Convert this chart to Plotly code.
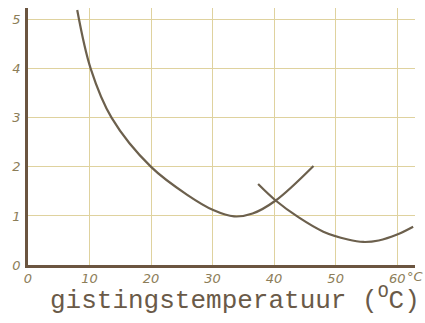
import plotly.graph_objects as go

# Curve 1 (lower-temperature optimum)
c1_x = [8.0, 10.2, 13.6, 20.0, 26.0, 30.1, 33.5, 36.5, 40.2, 46.4]
c1_y = [5.2, 4.0, 3.0, 2.0, 1.42, 1.12, 0.99, 1.05, 1.31, 2.02]
# Curve 2 (higher-temperature optimum)
c2_x = [37.4, 40.3, 44, 48, 52, 54.5, 57, 60, 62.6]
c2_y = [1.65, 1.31, 0.97, 0.68, 0.52, 0.47, 0.5, 0.62, 0.78]

x_ticks = [0, 10, 20, 30, 40, 50, 60]
x_labels = ["0", "10", "20", "30", "40", "50", "60"]
y_ticks = [0, 1, 2, 3, 4, 5]
y_labels = ["0", "1", "2", "3", "4", "5"]
x_title = "gistingstemperatuur (<sup>O</sup>C)"

curve_col = "#6c604d"
axis_col = "#6b5540"
grid_col = "#dfd29e"
tick_col = "#8c7d58"

fig = go.Figure()
for xs, ys in [(c1_x, c1_y), (c2_x, c2_y)]:
    fig.add_trace(go.Scatter(x=xs, y=ys, mode="lines",
                             line=dict(color=curve_col, width=2.2, shape="spline", smoothing=1.0),
                             showlegend=False, hoverinfo="skip"))

W, H = 425, 323
L, R, T, B = 28, 10, 8, 58
fig.update_layout(
    width=W, height=H,
    margin=dict(l=L, r=R, t=T, b=B),
    paper_bgcolor="white", plot_bgcolor="white",
)
fig.update_xaxes(range=[0, 62.9], tickvals=x_ticks, ticktext=x_labels,
                 showgrid=True, gridcolor=grid_col, gridwidth=1,
                 showline=True, linecolor=axis_col, linewidth=2.5,
                 zeroline=False, ticks="",
                 tickfont=dict(family="DejaVu Sans", size=13, color=tick_col, style="italic"),
                 ticklabelstandoff=0)
fig.update_yaxes(range=[0, 5.24], tickvals=y_ticks, ticktext=y_labels,
                 showgrid=True, gridcolor=grid_col, gridwidth=1,
                 showline=True, linecolor=axis_col, linewidth=2.5,
                 zeroline=False, ticks="",
                 tickfont=dict(family="DejaVu Sans", size=13, color=tick_col, style="italic"),
                 ticklabelstandoff=2)

fig.add_annotation(x=60, y=0, xref="x", yref="y", text="°C", showarrow=False,
                   xanchor="left", yanchor="top", xshift=8, yshift=-2,
                   font=dict(family="DejaVu Sans", size=13, color=tick_col, style="italic"))
pw, ph = W - L - R, H - T - B
fig.add_annotation(x=(235 - L) / pw, y=-(318 - (H - B)) / ph, xref="paper", yref="paper",
                   text=x_title, showarrow=False, xanchor="center", yanchor="bottom",
                   font=dict(family="Liberation Mono", size=26, color="#6a5a48"))

fig.write_html("out.html")
